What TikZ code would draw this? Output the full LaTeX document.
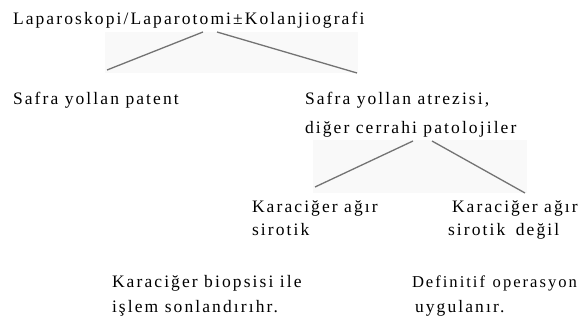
\documentclass[tikz,border=0pt]{standalone}
\usepackage{fontspec}
\setmainfont[LetterSpace=12]{Liberation Serif}
\definecolor{patch}{RGB}{249,249,249}
\definecolor{linec}{RGB}{115,115,115}
\tikzset{
  txt/.style={anchor=base west, inner sep=0pt, outer sep=0pt, font=\fontsize{17.5}{21}\selectfont},
  conn/.style={draw=linec, line width=1.3pt},
  bg/.style={fill=patch, draw=none}
}
\begin{document}
\begin{tikzpicture}[x=1pt,y=-1pt]
\useasboundingbox (0,0) rectangle (584,329);
% light scan patches
\fill[patch] (105,32) rectangle (358,73);
\fill[patch] (313,140) rectangle (527,193);
% texts
\node[txt] (top) at (13,25) {Laparoskopi/Laparotomi±Kolanjiografi};
\node[txt] (pat) at (13,104) {Safra yollan patent};
\node[txt] (atr1) at (305,105) {Safra yollan atrezisi,};
\node[txt] (atr2) at (305,133) {diğer cerrahi patolojiler};
\node[txt] (sir1) at (252,212) {Karaciğer ağır};
\node[txt] (sir2) at (252,235) {sirotik};
\node[txt] (nsir1) at (452,212) {Karaciğer ağır};
\node[txt] (nsir2) at (448,235) {sirotik\hspace{4pt} değil};
\node[txt] (bio1) at (112,287) {Karaciğer biopsisi ile};
\node[txt] (bio2) at (112,312) {işlem sonlandırıhr.};
\node[txt, font=\fontsize{16.6}{20}\selectfont] (def1) at (412,287) {Definitif\hspace{1.5pt} operasyon};
\node[txt] (def2) at (415,312) {uygulanır.};
% connector end points
\coordinate (a1) at (203,32);
\coordinate (a2) at (107,70);
\coordinate (b1) at (217,32);
\coordinate (b2) at (357,73);
\coordinate (c1) at (413,141);
\coordinate (c2) at (315,187);
\coordinate (d1) at (432,141);
\coordinate (d2) at (525,193);
\draw[conn] (a1) -- (a2);
\draw[conn] (b1) -- (b2);
\draw[conn] (c1) -- (c2);
\draw[conn] (d1) -- (d2);
\end{tikzpicture}
\end{document}
